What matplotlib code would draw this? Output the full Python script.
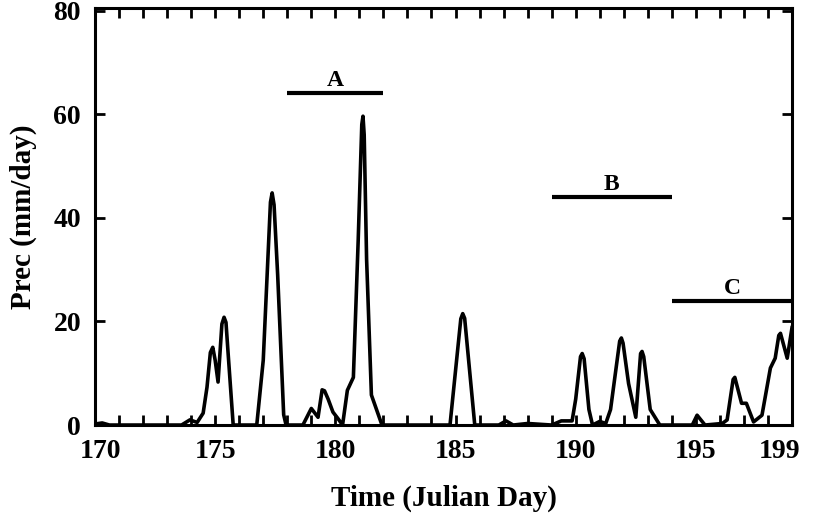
import matplotlib
matplotlib.use("Agg")
import matplotlib.pyplot as plt
import matplotlib.transforms as mtransforms
import numpy as np

plt.rcParams['font.family'] = 'Liberation Serif'
plt.rcParams['font.weight'] = 'bold'

# precipitation series (Julian day, mm/day)
days = [170.0, 170.3, 170.6, 171.0, 172.0, 173.0, 173.6, 173.95, 174.25, 174.5,
        174.66, 174.8, 174.9, 175.0, 175.12, 175.28, 175.37, 175.45, 175.53, 175.75,
        176.0, 176.73, 177.0, 177.3, 177.37, 177.45, 177.6, 177.85, 177.95, 178.65,
        179.0, 179.28, 179.45, 179.55, 179.7, 179.9, 180.1, 180.3, 180.5, 180.75,
        180.95, 181.1, 181.15, 181.2, 181.3, 181.5, 181.94, 184.77, 185.22, 185.3,
        185.38, 185.8, 186.8, 187.1, 187.4, 188.0, 189.0, 189.4, 189.85, 190.0,
        190.2, 190.27, 190.35, 190.55, 190.7, 191.0, 191.25, 191.45, 191.83, 191.9,
        191.97, 192.2, 192.5, 192.7, 192.76, 192.83, 193.1, 193.5, 194.85, 195.05,
        195.38, 196.1, 196.3, 196.55, 196.62, 196.9, 197.1, 197.4, 197.75, 198.1,
        198.3, 198.45, 198.52, 198.8, 199.0]
prec = [0.2, 0.4, 0.0, 0.0, 0.0, 0.0, 0.0, 1.0, 0.5, 2.3,
        7.3, 14.0, 15.0, 12.5, 8.3, 19.5, 20.8, 19.8, 14.4, 0.0,
        0.0, 0.0, 12.5, 43.0, 44.8, 42.5, 29.0, 2.0, 0.0, 0.0,
        3.2, 1.5, 6.8, 6.6, 5.0, 2.5, 1.3, 0.0, 6.7, 9.2,
        35.6, 58.0, 59.6, 56.0, 32.0, 5.8, 0.0, 0.0, 20.5, 21.5,
        20.6, 0.0, 0.0, 0.8, 0.0, 0.3, 0.0, 0.8, 0.8, 5.0,
        13.2, 13.8, 12.8, 3.0, 0.0, 0.7, 0.3, 3.0, 16.2, 16.8,
        15.8, 8.0, 1.5, 13.8, 14.2, 13.2, 3.0, 0.0, 0.0, 1.9,
        0.0, 0.3, 1.0, 8.8, 9.2, 4.2, 4.2, 0.6, 1.9, 11.0,
        12.9, 17.3, 17.7, 12.9, 18.8]

# period markers
period_names = ['A', 'B', 'C']
period_start = [178, 189, 194]
period_end = [182, 194, 199]
period_level = [64, 44, 24]

tick_days = list(range(170, 200))
labeled_days = [170, 175, 180, 185, 190, 195, 199]

fig = plt.figure(figsize=(8.14, 5.28), dpi=100)
ax = fig.add_axes([0.1167, 0.195, 0.8563, 0.79])

ax.plot(days, prec, color='black', lw=2.6, solid_joinstyle='round')

for name, s, e, lev in zip(period_names, period_start, period_end, period_level):
    ax.plot([s, e], [lev, lev], color='black', lw=3, solid_capstyle='butt')
    ax.text((s + e) / 2, lev + 0.4, name, ha='center', va='bottom',
            fontsize=17, fontweight='bold')

ax.set_xlim(170, 199)
ax.set_ylim(0, 80.5)
ax.set_xticks(tick_days)
ax.set_xticklabels([str(d) if d in labeled_days else '' for d in tick_days])
ax.set_yticks([0, 20, 40, 60, 80])

ax.tick_params(direction='in', length=7, width=2, top=True, right=True,
               labelsize=20, pad=10)
for s in ax.spines.values():
    s.set_linewidth(2.2)

# nudge the end labels inward like the original
labels = ax.get_xticklabels()
labels[0].set_transform(labels[0].get_transform() +
                        mtransforms.ScaledTranslation(6 / 100, 0, fig.dpi_scale_trans))
labels[-1].set_transform(labels[-1].get_transform() +
                         mtransforms.ScaledTranslation(-12 / 100, 0, fig.dpi_scale_trans))

ax.set_xlabel('Time (Julian Day)', fontsize=21, fontweight='bold', labelpad=15)
ax.set_ylabel('Prec (mm/day)', fontsize=21, fontweight='bold', labelpad=12)

plt.savefig('out.png', dpi=100)
plt.close()
